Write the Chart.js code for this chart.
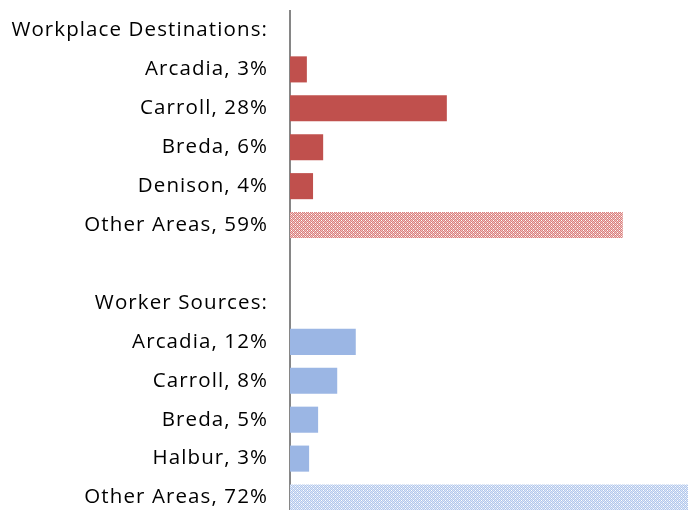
<!DOCTYPE html>
<html>
<head>
<meta charset="utf-8">
<script src="https://cdn.jsdelivr.net/npm/chart.js@4/dist/chart.umd.min.js"></script>
<style>
html, body { margin: 0; padding: 0; overflow: hidden; background: #fff; }
#wrap { position: relative; width: 688px; height: 517px; }
</style>
</head>
<body>
<div id="wrap"><canvas id="c"></canvas></div>
<script>
// Category (tick) labels
const categories = [
  "Workplace Destinations:",
  "Arcadia, 3%",
  "Carroll, 28%",
  "Breda, 6%",
  "Denison, 4%",
  "Other Areas, 59%",
  "",
  "Worker Sources:",
  "Arcadia, 12%",
  "Carroll, 8%",
  "Breda, 5%",
  "Halbur, 3%",
  "Other Areas, 72%"
];
// Workplace destinations (percent)
const destinationValues = [null, 3.0, 27.9, 5.9, 4.1, 59.2, null, null, null, null, null, null, null];
// Worker sources (percent)
const sourceValues = [null, null, null, null, null, null, null, null, 11.7, 8.4, 5.0, 3.4, 72.0];
// Which bars are "Other Areas" (patterned)
const otherIndex = [5, 12];

function makePattern(dark, light) {
  const p = document.createElement('canvas');
  p.width = 4; p.height = 4;
  const g = p.getContext('2d');
  for (let y = 0; y < 4; y++) {
    for (let x = 0; x < 4; x++) {
      g.fillStyle = ((x + y) % 2 === 0) ? dark : light;
      if (x === 1 && y === 0) g.fillStyle = '#ffffff';
      if (x === 3 && y === 2) g.fillStyle = '#ffffff';
      g.fillRect(x, y, 1, 1);
    }
  }
  return g.createPattern(p, 'repeat');
}

const red = '#c0504d';
const blue = '#9bb6e4';
const redPat = makePattern('#d97f7d', '#f0c2c1');
const bluePat = makePattern('#b2c7ec', '#dde7f7');

const redColors = categories.map((_, i) => otherIndex.includes(i) ? redPat : red);
const blueColors = categories.map((_, i) => otherIndex.includes(i) ? bluePat : blue);

const spacingPlugin = {
  id: 'spacing',
  beforeDraw(chart) { chart.ctx.letterSpacing = '1.1px'; }
};

new Chart(document.getElementById('c'), {
  type: 'bar',
  data: {
    labels: categories,
    datasets: [
      { data: destinationValues, backgroundColor: redColors, barPercentage: 0.67, categoryPercentage: 1, grouped: false },
      { data: sourceValues, backgroundColor: blueColors, barPercentage: 0.67, categoryPercentage: 1, grouped: false }
    ]
  },
  plugins: [spacingPlugin],
  options: {
    indexAxis: 'y',
    responsive: true,
    maintainAspectRatio: false,
    animation: false,
    layout: { padding: { top: 11, right: 0, bottom: 0, left: 0 } },
    plugins: { legend: { display: false }, tooltip: { enabled: false } },
    scales: {
      x: { display: false, min: 0, max: 70.8 },
      y: {
        afterFit: (s) => { s.width = 290; s.paddingTop = 0; s.paddingBottom = 0; },
        grid: { display: false, drawTicks: false },
        border: { display: true, color: '#868686', width: 2 },
        ticks: {
          padding: 22,
          color: '#000000',
          autoSkip: false,
          font: { family: 'Open Sans', size: 20.5 }
        }
      }
    }
  }
});
</script>
</body>
</html>
